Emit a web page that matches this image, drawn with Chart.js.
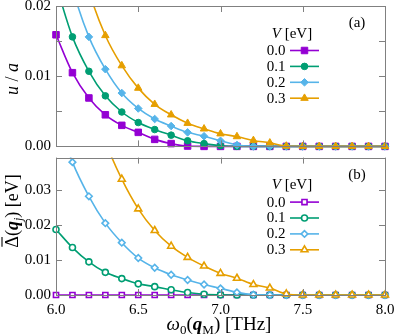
<!DOCTYPE html>
<html>
<head>
<meta charset="utf-8">
<script src="https://cdn.jsdelivr.net/npm/chart.js@4.4.1/dist/chart.umd.min.js"></script>
<style>
  html, body { margin: 0; padding: 0; background: #fff; }
  #wrap { position: relative; width: 395px; height: 336px; }
  canvas { position: absolute; left: 0; }
  #graficoA { top: 0; }
  #graficoB { top: 152px; }
</style>
</head>
<body>
<div id="wrap">
  <canvas id="graficoA" width="395" height="152"></canvas>
  <canvas id="graficoB" width="395" height="184"></canvas>
</div>
<script>
// omega_0(q_M) [THz]
const omega = [6.0, 6.1, 6.2, 6.3, 6.4, 6.5, 6.6, 6.7, 6.8, 6.9, 7.0,
               7.1, 7.2, 7.3, 7.4, 7.5, 7.6, 7.7, 7.8, 7.9, 8.0];
const potLabels = ["0.0", "0.1", "0.2", "0.3"];

// (a) u / a
const uV00 = [0.0159, 0.0105, 0.0069, 0.0045, 0.0030, 0.0020, 0.0010, 0.0004, 0.00005, 0, 0, 0, 0, 0, 0, 0, 0, 0, 0, 0, 0];
const uV01 = [0.0230, 0.0156, 0.0107, 0.0072, 0.0049, 0.0034, 0.0024, 0.0016, 0.0008, 0.0004, 0.0001, 0, 0, 0, 0, 0, 0, 0, 0, 0, 0];
const uV02 = [0.0320, 0.0225, 0.0156, 0.0110, 0.0076, 0.0054, 0.0039, 0.0029, 0.0020, 0.00145, 0.0008, 0.0002, 0, 0, 0, 0, 0, 0, 0, 0, 0];
const uV03 = [0.0450, 0.0320, 0.0222, 0.0158, 0.0115, 0.0083, 0.0060, 0.0045, 0.0033, 0.0025, 0.0018, 0.0014, 0.00085, 0.0005, 0.00005, 0, 0, 0, 0, 0, 0];

// (b) Delta(q_j) [eV]
const dV00 = [0, 0, 0, 0, 0, 0, 0, 0, 0, 0, 0, 0, 0, 0, 0, 0, 0, 0, 0, 0, 0];
const dV01 = [0.0188, 0.0136, 0.0095, 0.0065, 0.0047, 0.0032, 0.0024, 0.0015, 0.0007, 0.0002, 0.00005, 0, 0, 0, 0, 0, 0, 0, 0, 0, 0];
const dV02 = [0.0520, 0.0381, 0.0283, 0.0206, 0.0150, 0.0106, 0.0078, 0.0058, 0.0043, 0.0030, 0.0019, 0.00075, 0.0001, 0, 0, 0, 0, 0, 0, 0, 0];
const dV03 = [0.1000, 0.0760, 0.0580, 0.0440, 0.0332, 0.0247, 0.0185, 0.0140, 0.0108, 0.0083, 0.0062, 0.0048, 0.0030, 0.0020, 0.0003, 0, 0, 0, 0, 0, 0];

// ticks
const xTicks = [6.0, 6.5, 7.0, 7.5, 8.0];
const yTicksA = [0, 0.005, 0.01, 0.015, 0.02];
const yTicksB = [0, 0.01, 0.02, 0.03];

const colores = ["#9400d3", "#009e73", "#56b4e9", "#e69f00"];
const estilos = ["rect", "circle", "rectRot", "triangle"];
const radiosA = [4.6, 3.3, 3.8, 4.3];
const radiosB = [3.6, 3.0, 3.3, 4.0];
const SERIF = "'Liberation Serif', 'DejaVu Serif', serif";

function esMayor(v) {
    return Math.abs(v / 0.01 - Math.round(v / 0.01)) < 1e-6;
}

function crearSeries(series, abierto, radios) {
    return series.map((vals, i) => ({
        label: potLabels[i],
        data: omega.map((x, k) => ({ x: x, y: vals[k] })),
        borderColor: colores[i],
        backgroundColor: abierto ? "#ffffff" : colores[i],
        pointBackgroundColor: abierto ? "#ffffff" : colores[i],
        pointBorderColor: colores[i],
        pointBorderWidth: abierto ? 1.6 : 1,
        pointStyle: estilos[i],
        pointRadius: radios[i],
        borderWidth: 1.6,
        cubicInterpolationMode: "monotone",
        order: 3 - i,
        clip: { left: 10, top: 0, right: 10, bottom: 10 }
    }));
}

// texto con varias fuentes (titulos de ejes)
function textoRico(ctx, partes, x, y, ang) {
    ctx.save();
    ctx.translate(x, y);
    ctx.rotate(ang);
    ctx.textBaseline = "alphabetic";
    ctx.fillStyle = "#000";
    let total = 0;
    partes.forEach(p => { ctx.font = p.f; total += ctx.measureText(p.t).width; });
    let cx = -total / 2;
    partes.forEach(p => {
        ctx.font = p.f;
        const w = ctx.measureText(p.t).width;
        ctx.fillText(p.t, cx, p.dy || 0);
        if (p.barra) {
            ctx.strokeStyle = "#000";
            ctx.lineWidth = 1.1;
            ctx.beginPath();
            ctx.moveTo(cx + 1, -15.5);
            ctx.lineTo(cx + w - 1, -15.5);
            ctx.stroke();
        }
        cx += w;
    });
    ctx.restore();
}

const marcoPlugin = {
    id: "marco",
    afterDraw(chart, args, opts) {
        const ctx = chart.ctx;
        const a = chart.chartArea;
        const sx = chart.scales.x, sy = chart.scales.y;
        const L = 6;
        ctx.save();
        ctx.strokeStyle = "#808080";
        ctx.lineWidth = 1;
        ctx.strokeRect(Math.round(a.left) + 0.5, Math.round(a.top) + 0.5,
                       Math.round(a.right - a.left), Math.round(a.bottom - a.top));
        ctx.beginPath();
        xTicks.forEach(v => {
            const px = Math.round(sx.getPixelForValue(v)) + 0.5;
            ctx.moveTo(px, a.top); ctx.lineTo(px, a.top + L);
            ctx.moveTo(px, a.bottom); ctx.lineTo(px, a.bottom - L);
        });
        opts.yTicks.forEach(v => {
            const py = Math.round(sy.getPixelForValue(v)) + 0.5;
            ctx.moveTo(a.left, py); ctx.lineTo(a.left + L, py);
            ctx.moveTo(a.right, py); ctx.lineTo(a.right - L, py);
        });
        ctx.stroke();
        ctx.restore();

        // leyenda
        ctx.save();
        const top = a.top;
        textoRico(ctx, [
            { t: "V", f: "italic 15px " + SERIF },
            { t: " [eV]", f: "15px " + SERIF }
        ], 292, top + 31.5, 0);
        ctx.font = "15px " + SERIF;
        ctx.fillStyle = "#000";
        ctx.textBaseline = "middle";
        ctx.textAlign = "center";
        ctx.fillText(opts.panel, 357, top + 17);
        chart.data.datasets.forEach((ds, i) => {
            const y = top + 44.5 + i * 15.9;
            ctx.textAlign = "right";
            ctx.fillStyle = "#000";
            ctx.fillText(ds.label, 285.5, y + 0.5);
            ctx.strokeStyle = ds.borderColor;
            ctx.lineWidth = ds.borderWidth;
            ctx.beginPath();
            ctx.moveTo(290, y); ctx.lineTo(319, y);
            ctx.stroke();
            ctx.fillStyle = ds.pointBackgroundColor;
            ctx.strokeStyle = ds.pointBorderColor;
            ctx.lineWidth = ds.pointBorderWidth;
            Chart.helpers.drawPoint(ctx, {
                pointStyle: ds.pointStyle, radius: ds.pointRadius,
                borderWidth: ds.pointBorderWidth, rotation: 0
            }, 304.5, y);
        });
        ctx.restore();

        if (opts.titulo) opts.titulo(ctx);
    }
};

function fijarY(ancho) {
    return s => { s.width = ancho; s.paddingTop = 0; s.paddingBottom = 0; };
}

function opciones(ymax, yTicks, panel, conEtiquetasX, titulo, padding) {
    return {
        responsive: false,
        animation: false,
        devicePixelRatio: 1,
        layout: { padding: padding },
        plugins: {
            legend: { display: false },
            tooltip: { enabled: false },
            marco: { yTicks: yTicks, panel: panel, titulo: titulo }
        },
        scales: {
            x: {
                type: "linear", min: 6, max: 8,
                grid: { display: false, drawTicks: false },
                border: { display: false },
                afterBuildTicks: s => { s.ticks = xTicks.map(v => ({ value: v })); },
                afterFit: s => {
                    s.height = conEtiquetasX ? 41 : 0;
                    s.paddingLeft = 0; s.paddingRight = 0;
                },
                ticks: {
                    display: conEtiquetasX, padding: 6, maxRotation: 0, autoSkip: false,
                    color: "#000", font: { family: SERIF, size: 15 },
                    callback: v => v.toFixed(1)
                }
            },
            y: {
                min: 0, max: ymax,
                grid: { display: false, drawTicks: false },
                border: { display: false },
                afterBuildTicks: s => { s.ticks = yTicks.map(v => ({ value: v })); },
                afterFit: fijarY(56),
                ticks: {
                    padding: 5, color: "#000", font: { family: SERIF, size: 15 },
                    callback: v => esMayor(v) ? v.toFixed(2) : ""
                }
            }
        }
    };
}

new Chart(document.getElementById("graficoA"), {
    type: "line",
    data: { datasets: crearSeries([uV00, uV01, uV02, uV03], false, radiosA) },
    options: opciones(0.02, yTicksA, "(a)", false, ctx => {
        textoRico(ctx, [
            { t: "u", f: "italic 18px " + SERIF },
            { t: " / ", f: "18px " + SERIF },
            { t: "a", f: "italic 18px " + SERIF }
        ], 17.5, 79, -Math.PI / 2);
    }, { left: 0, right: 10, top: 6, bottom: 3 }),
    plugins: [marcoPlugin]
});

new Chart(document.getElementById("graficoB"), {
    type: "line",
    data: { datasets: crearSeries([dV00, dV01, dV02, dV03], true, radiosB) },
    options: opciones(0.0394, yTicksB, "(b)", true, ctx => {
        textoRico(ctx, [
            { t: "Δ", f: "18px " + SERIF, barra: true },
            { t: "(", f: "18px " + SERIF },
            { t: "q", f: "bold italic 18px " + SERIF },
            { t: "j", f: "italic 12px " + SERIF, dy: 4 },
            { t: ") [eV]", f: "18px " + SERIF }
        ], 17.5, 59, -Math.PI / 2);
        textoRico(ctx, [
            { t: "ω", f: "italic 19px " + SERIF },
            { t: "0", f: "13px " + SERIF, dy: 4 },
            { t: "(", f: "19px " + SERIF },
            { t: "q", f: "bold italic 19px " + SERIF },
            { t: "M", f: "13px " + SERIF, dy: 4 },
            { t: ") [THz]", f: "19px " + SERIF }
        ], 219, 178, 0);
    }, { left: 0, right: 10, top: 1, bottom: 0 }),
    plugins: [marcoPlugin]
});
</script>
</body>
</html>
